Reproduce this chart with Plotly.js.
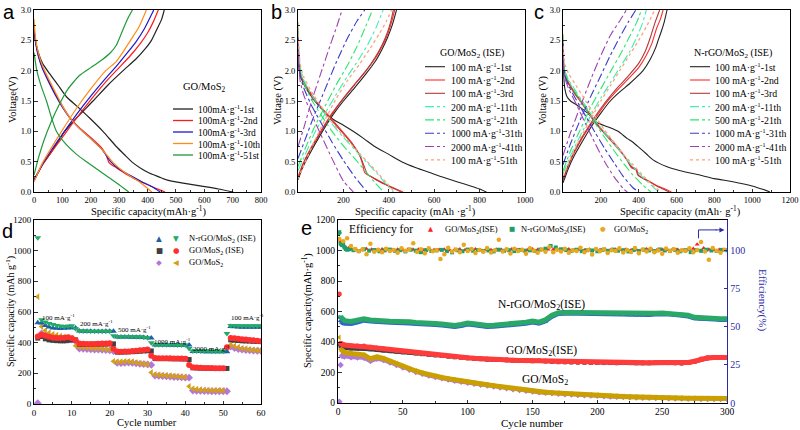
<!DOCTYPE html>
<html><head><meta charset="utf-8">
<script src="https://cdn.plot.ly/plotly-3.0.1.min.js"></script>
<style>html,body{margin:0;padding:0;background:#fff}#g{width:800px;height:430px}</style>
</head><body><div id="g"></div>
<script>
// ---------- Panel a: GO/MoS2 (capacity mAh/g, voltage V) ----------
const A1_dQ=[0,5,15,30,55,85,114,150,196,243,290,320,349,380,408,440,467,520,585,650,702];
const A1_dV=[2.65,2.5,2.3,2.12,1.95,1.76,1.57,1.42,1.22,1.0,0.75,0.61,0.48,0.38,0.31,0.25,0.2,0.15,0.1,0.05,0.0];
const A1_cQ=[0,30,60,108,150,208,260,314,361,390,414,435,450,459];
const A1_cV=[0.18,0.45,0.65,1.0,1.22,1.5,1.76,2.0,2.2,2.35,2.5,2.7,2.85,3.0];
const A2_dQ=[0,5,15,30,50,75,100,130,160,200,240,255,265,290,330,370,410,440,462];
const A2_dV=[2.7,2.5,2.25,2.05,1.85,1.62,1.42,1.2,1.06,0.9,0.72,0.6,0.48,0.4,0.28,0.18,0.1,0.04,0.0];
const A2_cQ=[0,30,60,100,150,200,250,300,340,375,400,420,438];
const A2_cV=[0.2,0.45,0.65,0.9,1.22,1.52,1.8,2.05,2.25,2.45,2.62,2.8,3.0];
const A3_dQ=[0,5,15,30,50,75,100,130,160,200,240,270,300,340,380,415,445];
const A3_dV=[2.68,2.48,2.25,2.03,1.83,1.6,1.4,1.2,1.05,0.88,0.7,0.5,0.38,0.27,0.17,0.09,0.0];
const A3_cQ=[0,30,60,100,150,200,250,290,330,360,390,422];
const A3_cV=[0.2,0.46,0.68,0.95,1.28,1.58,1.86,2.07,2.3,2.48,2.7,3.0];
const A10_dQ=[0,5,15,30,50,75,100,130,160,200,240,280,320,360,390,415];
const A10_dV=[2.85,2.55,2.3,2.08,1.88,1.65,1.42,1.2,1.05,0.88,0.7,0.48,0.32,0.2,0.1,0.0];
const A10_cQ=[0,30,60,100,150,200,253,290,310,340,370,396];
const A10_cV=[0.17,0.48,0.72,1.02,1.38,1.7,2.0,2.15,2.28,2.5,2.72,3.0];
const A51_dQ=[0,10,25,44,60,79,110,150,185,230,270,300,334];
const A51_dV=[2.3,2.0,1.75,1.5,1.25,1.0,0.8,0.62,0.5,0.35,0.22,0.12,0.0];
const A51_cQ=[0,15,35,60,90,120,160,200,240,270,290,305,320,335,347];
const A51_cV=[0.28,0.55,0.85,1.15,1.45,1.7,1.92,2.05,2.18,2.3,2.42,2.58,2.75,2.9,3.0];
const aNames=['100mA·g<sup>-1</sup>-1st','100mA·g<sup>-1</sup>-2nd','100mA·g<sup>-1</sup>-3rd','100mA·g<sup>-1</sup>-10th','100mA·g<sup>-1</sup>-51st'];

// ---------- Panel b: GO/MoS2 (ISE) ----------
const B1_dQ=[0,3,8,20,40,70,110,154,200,243,290,338,400,456,520,580,633,700,760,800,830];
const B1_dV=[2.3,2.1,1.95,1.82,1.68,1.52,1.35,1.2,1.1,1.0,0.88,0.75,0.62,0.5,0.4,0.32,0.25,0.17,0.1,0.05,0.0];
const B1_cQ=[0,20,50,100,150,200,250,300,340,370,395,415,434];
const B1_cV=[0.2,0.4,0.62,0.95,1.25,1.5,1.72,1.95,2.15,2.35,2.55,2.75,3.0];
const B2_dQ=[0,5,15,40,80,120,160,200,240,272,285,294,340,380,420,463];
const B2_dV=[2.3,2.05,1.9,1.72,1.5,1.32,1.15,0.98,0.8,0.6,0.45,0.32,0.22,0.14,0.07,0.0];
const B2_cQ=[0,20,50,100,150,200,250,300,340,370,395,412,426];
const B2_cV=[0.25,0.45,0.68,1.0,1.3,1.55,1.78,2.0,2.2,2.4,2.6,2.8,3.0];
const B3_dQ=[0,5,15,40,80,120,160,200,240,275,292,305,340,380,420,455];
const B3_dV=[2.28,2.03,1.88,1.7,1.48,1.3,1.13,0.96,0.78,0.58,0.42,0.3,0.21,0.13,0.06,0.0];
const B3_cQ=[0,20,50,100,150,200,250,300,340,370,393,408,420];
const B3_cV=[0.22,0.43,0.66,0.98,1.28,1.54,1.77,2.0,2.22,2.42,2.62,2.8,3.0];
const B11_dQ=[0,4,10,25,60,100,150,200,250,300,350,390,420];
const B11_dV=[2.75,2.3,2.05,1.85,1.6,1.38,1.12,0.9,0.7,0.5,0.3,0.12,0.0];
const B11_cQ=[0,30,70,120,170,220,270,310,345,375];
const B11_cV=[0.35,0.6,0.95,1.3,1.62,1.92,2.2,2.45,2.72,3.0];
const B21_dQ=[0,4,10,25,60,100,150,200,250,300,340,378];
const B21_dV=[2.7,2.25,2.0,1.8,1.52,1.28,1.0,0.76,0.55,0.33,0.15,0.0];
const B21_cQ=[0,30,70,120,170,220,260,295,328];
const B21_cV=[0.42,0.7,1.05,1.42,1.78,2.1,2.4,2.7,3.0];
const B31_dQ=[0,4,10,25,60,100,150,200,250,304];
const B31_dV=[2.6,2.15,1.92,1.72,1.42,1.15,0.82,0.52,0.25,0.0];
const B31_cQ=[0,30,70,120,170,220,260,294];
const B31_cV=[0.55,0.85,1.25,1.7,2.15,2.55,2.82,3.0];
const B41_dQ=[0,4,10,25,60,100,150,200,244];
const B41_dV=[2.55,2.05,1.82,1.6,1.28,0.95,0.55,0.18,0.0];
const B41_cQ=[0,25,60,100,140,170,194];
const B41_cV=[0.75,1.05,1.5,1.95,2.4,2.72,3.0];
const B51_dQ=[0,4,10,25,60,100,150,200,250,300,350,390,425];
const B51_dV=[2.8,2.35,2.1,1.9,1.65,1.42,1.15,0.93,0.72,0.52,0.32,0.15,0.0];
const B51_cQ=[0,30,70,120,170,220,270,320,360,390,412];
const B51_cV=[0.22,0.48,0.82,1.2,1.55,1.85,2.1,2.38,2.62,2.82,3.0];

// ---------- Panel c: N-rGO/MoS2 (ISE) ----------
const C1_dQ=[0,2,5,10,20,40,80,130,176,240,291,340,370,400,440,476,547,620,723,800,898,1000,1060,1094];
const C1_dV=[2.5,2.1,1.85,1.7,1.58,1.5,1.42,1.3,1.15,1.07,1.0,0.88,0.82,0.74,0.63,0.53,0.42,0.35,0.28,0.22,0.17,0.1,0.04,0.0];
const C1_cQ=[0,30,60,100,150,200,250,300,350,385,423,460,490,503,520,535,550];
const C1_cV=[0.15,0.4,0.6,0.82,1.08,1.3,1.5,1.65,1.78,1.88,2.0,2.18,2.38,2.5,2.65,2.8,3.0];
const C2_dQ=[0,3,10,30,60,100,150,200,250,300,340,362,390,400,420,460,500,540,573];
const C2_dV=[2.5,2.15,1.95,1.8,1.65,1.48,1.25,1.05,0.88,0.7,0.52,0.4,0.36,0.27,0.23,0.17,0.1,0.05,0.0];
const C2_cQ=[0,30,60,100,150,200,250,300,350,400,440,470,495,515,529];
const C2_cV=[0.2,0.45,0.65,0.88,1.12,1.35,1.55,1.72,1.88,2.05,2.25,2.45,2.7,2.85,3.0];
const C3_dQ=[0,3,10,30,60,100,150,200,250,300,340,360,385,395,420,460,500,535,562];
const C3_dV=[2.45,2.1,1.92,1.78,1.63,1.46,1.23,1.03,0.86,0.68,0.52,0.42,0.38,0.28,0.23,0.16,0.09,0.04,0.0];
const C3_cQ=[0,30,60,100,150,200,250,300,350,400,435,462,485,511];
const C3_cV=[0.2,0.46,0.67,0.9,1.15,1.38,1.58,1.76,1.93,2.12,2.32,2.55,2.78,3.0];
const C11_dQ=[0,3,10,30,70,120,170,220,270,320,370,420,470,505];
const C11_dV=[2.6,2.2,2.0,1.85,1.65,1.42,1.18,0.98,0.8,0.6,0.42,0.25,0.1,0.0];
const C11_cQ=[0,40,90,150,200,250,300,350,390,420,441];
const C11_cV=[0.3,0.6,0.92,1.28,1.55,1.8,2.05,2.3,2.55,2.78,3.0];
const C21_dQ=[0,3,10,30,70,120,170,220,270,320,370,420,465];
const C21_dV=[2.55,2.15,1.97,1.82,1.62,1.38,1.13,0.9,0.68,0.47,0.28,0.12,0.0];
const C21_cQ=[0,40,90,150,200,250,300,350,390,415];
const C21_cV=[0.35,0.68,1.02,1.42,1.7,1.98,2.25,2.55,2.8,3.0];
const C31_dQ=[0,3,10,30,70,120,170,220,270,320,370,400];
const C31_dV=[2.5,2.1,1.92,1.75,1.52,1.25,0.98,0.72,0.48,0.25,0.07,0.0];
const C31_cQ=[0,40,90,150,200,250,300,345,385];
const C31_cV=[0.45,0.8,1.18,1.6,1.92,2.25,2.55,2.8,3.0];
const C41_dQ=[0,3,10,30,70,120,170,220,270,320,340];
const C41_dV=[2.45,2.05,1.88,1.7,1.45,1.12,0.8,0.5,0.25,0.05,0.0];
const C41_cQ=[0,40,90,150,200,250,300,335];
const C41_cV=[0.6,0.98,1.4,1.88,2.25,2.58,2.82,3.0];
const C51_dQ=[0,3,10,30,70,120,170,220,270,320,370,420,470,520];
const C51_dV=[2.6,2.3,2.1,1.95,1.75,1.5,1.25,1.02,0.82,0.62,0.45,0.28,0.12,0.0];
const C51_cQ=[0,40,90,150,200,250,300,350,400,440,485];
const C51_cV=[0.25,0.55,0.88,1.22,1.5,1.75,2.0,2.25,2.5,2.72,3.0];
const rateNames=['100 mA·g<sup>-1</sup>-1st','100 mA·g<sup>-1</sup>-2nd','100 mA·g<sup>-1</sup>-3rd','200 mA·g<sup>-1</sup>-11th','500 mA·g<sup>-1</sup>-21th','1000 mA·g<sup>-1</sup>-31th','2000 mA·g<sup>-1</sup>-41th','100 mA·g<sup>-1</sup>-51th'];

// ---------- Panel d: rate capability ----------
const cycD=[1,2,3,4,5,6,7,8,9,10,11,12,13,14,15,16,17,18,19,20,21,22,23,24,25,26,27,28,29,30,31,32,33,34,35,36,37,38,39,40,41,42,43,44,45,46,47,48,49,50,51,52,53,54,55,56,57,58,59,60];
const D_N_ch=[530,528,512,502,496,494,493,494,496,498,495,476,475,474,474,473,473,473,474,474,475,437,437,437,437,436,436,435,433,432,430,384,384,384,384,383,383,383,383,383,385,342,342,342,341,341,341,341,341,341,341,505,503,502,501,500,500,500,500,500];
const D_N_dis=[1085,550,535,525,518,512,508,506,508,510,490,478,476,476,475,475,474,474,474,475,445,440,440,440,440,440,438,438,436,432,400,386,386,386,386,386,386,385,385,385,362,345,345,345,345,345,344,344,344,344,460,512,512,510,510,510,510,510,510,510];
const D_G_ch=[430,440,425,418,415,413,412,412,415,418,418,390,389,389,389,390,390,391,391,392,392,338,338,339,340,341,342,344,346,347,346,296,296,296,296,295,295,295,294,294,290,236,235,234,233,233,232,232,232,232,232,418,416,414,412,411,410,409,408,407];
const D_G_dis=[440,452,445,438,432,430,430,432,435,428,415,395,393,392,392,392,393,394,395,396,360,342,341,342,343,345,347,350,352,355,315,300,299,298,298,298,297,297,296,295,255,240,238,236,235,234,234,233,233,233,370,430,428,425,422,420,418,415,413,410];
const D_M_ch=[5,460,450,440,432,425,420,418,418,420,410,362,360,358,356,355,354,353,352,350,345,268,266,268,270,268,265,262,260,258,255,185,183,182,180,178,176,175,173,172,172,88,86,85,84,84,83,83,83,83,83,375,365,358,354,352,350,348,347,346];
const D_M_dis=[700,505,480,465,455,448,442,437,433,430,380,372,370,368,366,364,362,360,358,356,278,275,276,277,278,275,270,266,262,258,205,192,190,188,186,184,182,180,178,176,115,100,96,93,91,90,89,88,88,88,360,385,378,370,364,360,356,352,350,348];
const rateLabels=['100 mA·g<sup>-1</sup>','200 mA·g<sup>-1</sup>','500 mA·g<sup>-1</sup>','1000 mA·g<sup>-1</sup>','2000 mA·g<sup>-1</sup>','100 mA·g<sup>-1</sup>'];
const rateLabelCycle=[6.5,16.5,26.5,36.5,47,56.5];
const rateLabelCap=[562,527,483,405,362,562];

// ---------- Panel e: long cycling ----------
const cycE=[1,2,3,4,5,10,15,20,25,30,35,40,45,50,55,60,65,70,75,80,85,90,95,100,105,110,115,120,125,130,135,140,145,150,155,160,165,170,175,180,185,190,195,200,205,210,215,220,225,230,235,240,245,250,255,260,265,270,275,280,285,290,295,300];
const E_N_dis=[1110,565,552,545,540,535,540,552,545,540,538,536,535,536,532,528,528,524,522,518,513,508,515,525,520,512,508,510,513,518,522,526,530,538,530,545,575,592,596,595,594,593,592,590,589,588,587,586,585,584,583,585,588,590,588,585,583,575,562,558,556,555,553,552];
const E_N_ch=[560,540,528,522,520,518,528,540,535,530,528,526,525,526,522,518,518,514,512,508,503,498,505,515,510,502,498,500,503,508,512,516,520,528,520,535,565,584,588,587,586,585,584,582,581,580,579,578,577,576,575,577,580,582,580,577,575,567,554,550,548,547,545,544];
const E_G_dis=[715,392,386,383,380,376,374,374,366,360,355,349,344,339,334,330,325,320,316,312,307,303,299,296,293,290,288,286,285,283,281,279,278,277,279,276,273,271,270,269,268,267,266,266,265,265,264,265,265,264,264,264,265,266,265,264,262,266,274,288,296,298,298,299];
const E_G_ch=[385,372,366,362,360,358,357,358,352,348,344,340,336,332,328,325,320,316,312,308,304,300,296,293,290,287,285,283,282,280,278,276,275,274,276,273,270,268,267,266,265,264,263,263,262,262,261,262,262,261,261,261,262,263,262,261,259,263,271,285,293,295,295,296];
const E_M_dis=[430,352,342,336,332,325,320,315,290,302,292,275,258,240,224,210,198,186,176,168,160,152,145,139,132,126,120,114,108,101,95,89,84,79,75,71,68,65,62,60,57,55,53,51,49,47,45,43,41,39,38,37,36,35,34,33,32,31,31,30,30,29,29,29];
const E_M_ch=[8,250,310,308,305,300,298,296,275,290,282,266,250,233,218,204,192,180,170,162,154,146,139,133,126,120,114,108,102,96,90,85,80,75,71,67,64,61,58,56,53,51,49,47,45,43,41,40,38,36,35,34,33,32,31,30,29,28,28,27,27,26,26,26];
// coulombic efficiency (%)
const cycEffR=[2,3,4,5,6,8,10,14,18,22,26,30,34,38,42,46,50,54,58,62,66,70,74,78,82,86,90,94,98,102,106,110,114,118,122,126,130,134,138,142,146,150,154,158,162,166,170,174,178,182,186,190,194,198,202,206,210,214,218,222,226,230,234,238,242,246,250,254,258,262,266,270,274,277,282,286,290,294,298];
const effR=[106,104,103,102.5,102,101.5,101,100.8,100.3,101.0,100.6,100.2,100.9,100.5,100.4,100.7,100.3,100.8,100.5,100.6,100.2,100.9,100.4,100.5,100.7,100.3,100.6,100.8,100.4,100.5,100.9,100.3,100.6,100.4,100.7,100.5,100.2,100.8,100.4,100.6,100.3,100.9,100.5,100.4,100.7,100.6,100.3,100.5,100.8,100.4,100.6,100.2,100.7,100.5,100.4,100.8,100.3,100.6,100.5,100.7,100.2,100.6,100.4,100.9,100.5,100.3,100.6,100.4,100.7,100.5,100.2,100.6,101.2,104.0,101.5,100.6,100.4,100.5,100.3];
const cycEffN=[1,2,3,4,5,6,7,9,12,16,20,24,28,32,36,40,44,48,52,56,60,64,68,72,76,80,84,88,92,96,100,104,108,112,116,120,124,128,132,136,140,144,148,152,156,160,164,168,172,176,180,184,188,192,196,200,204,208,212,216,220,224,228,232,236,240,244,248,252,256,260,264,268,272,276,280,284,288,292,296,300];
const effN=[112,104.5,103.5,104,102,101,100.5,100.8,100.2,99.6,100.8,99.9,100.3,99.5,100.1,100.6,99.8,100.2,99.4,100.5,99.9,98.9,100.3,99.7,100.1,100.4,99.6,98.8,100.2,99.5,100.6,99.9,100.3,99.7,100.0,99.4,100.5,99.8,100.2,99.6,100.4,99.9,100.1,99.7,100.6,101.2,103.0,102.0,100.8,100.3,99.8,100.5,99.6,100.2,100.0,99.5,100.4,99.8,100.6,99.9,100.2,99.4,100.3,99.7,100.5,100.1,99.6,100.7,100.0,99.8,100.4,99.5,100.2,98.9,100.3,99.8,100.5,100.0,99.7,100.4,100.1];
const cycEffM=[1,4,7,10,13,16,19,22,25,28,31,34,37,40,43,46,49,52,55,58,61,64,67,70,73,76,79,82,85,88,91,94,97,100,103,106,109,112,115,118,121,124,127,130,133,136,139,142,145,148,151,154,157,160,163,166,169,172,175,178,181,184,187,190,193,196,199,202,205,208,211,214,217,220,223,226,229,232,235,238,241,244,247,250,253,256,259,262,265,268,271,274,277,280,283,286,289,292,295,298];
const effM=[107.5,106,108,103,101,99.5,100.8,97.5,104.5,99.2,100.5,98.8,101.2,99.6,100.3,98.5,101.5,99.8,100.6,104.8,99.0,100.9,98.2,101.4,99.5,100.2,94.5,97.6,101.8,99.3,100.7,98.9,103.8,99.7,101.0,98.4,100.4,99.2,101.6,98.7,100.1,107.0,99.4,100.8,98.1,101.2,99.6,100.3,97.8,101.5,99.9,98.6,100.7,99.1,102.3,98.8,100.5,99.3,101.1,98.5,100.2,99.7,101.8,98.9,100.4,97.4,101.0,99.5,100.9,98.3,100.1,99.6,101.4,98.7,100.3,99.0,101.7,98.2,100.6,99.4,101.2,98.9,100.0,97.9,101.3,99.6,100.8,98.5,100.2,99.7,101.5,98.8,100.4,105.5,99.3,94.0,101.6,99.8,98.6,100.5];

// ================= rendering =================
const W=800,H=430;
const px=x=>x/W, py=y=>1-y/H;
const F='Liberation Serif', GLY='DejaVu Sans';
const DOM={a:{x:[34,261],y:[10,192]},b:{x:[298,525],y:[10,192]},c:{x:[563,790],y:[10,192]},d:{x:[34,261],y:[220,404]},e:{x:[338,727],y:[220,403]}};
const dx=p=>[px(DOM[p].x[0]),px(DOM[p].x[1])];
const dy=p=>[py(DOM[p].y[1]),py(DOM[p].y[0])];
const shapes=[],annotations=[],traces=[];

function axis(extra,fs){return Object.assign({showline:true,linecolor:'#000',linewidth:1,mirror:true,ticks:'inside',ticklen:3.5,tickwidth:0.8,tickcolor:'#000',showgrid:false,zeroline:false,fixedrange:true,tickfont:{family:F,size:fs||8.5,color:'#000'}},extra);}
function ann(x,y,text,size,o){annotations.push(Object.assign({xref:'paper',yref:'paper',x:px(x),y:py(y),text:text,showarrow:false,xanchor:'center',yanchor:'middle',borderpad:0,font:{family:F,size:size,color:'#000'}},o||{}));}

function curve(xa,ya,dQ,dV,cQ,cV,color,dash,width){
  traces.push({type:'scatter',mode:'lines',x:dQ.concat([null],cQ),y:dV.concat([null],cV),xaxis:xa,yaxis:ya,connectgaps:false,
    line:{color:color,dash:dash,width:width,shape:'spline',smoothing:0.5},showlegend:false,hoverinfo:'skip'});
}
function lineLegend(names,colors,dashes,widths,x0,x1,xt,y0,step,size){
  names.forEach((n,i)=>{const y=y0+i*step;
    shapes.push({type:'line',xref:'paper',yref:'paper',x0:px(x0),x1:px(x1),y0:py(y),y1:py(y),line:{color:colors[i],width:widths[i],dash:dashes[i]}});
    ann(xt,y,n,size,{xanchor:'left'});
  });
}

// panel a
const aCol=['#222222','#ff1a1a','#1a1acc','#ff8c1a','#1f9a3a'];
[[A1_dQ,A1_dV,A1_cQ,A1_cV],[A2_dQ,A2_dV,A2_cQ,A2_cV],[A3_dQ,A3_dV,A3_cQ,A3_cV],[A10_dQ,A10_dV,A10_cQ,A10_cV],[A51_dQ,A51_dV,A51_cQ,A51_cV]]
 .forEach((s,i)=>curve('x','y',s[0],s[1],s[2],s[3],aCol[i],'solid',1.2));
ann(205,87,'GO/MoS<sub>2</sub>',10.5);
lineLegend(aNames,aCol,['solid','solid','solid','solid','solid'],[1.3,1.3,1.3,1.3,1.3],173,193,197,109,11.5,9.5);

// panels b and c
const rCol=['#222222','#ff2a2a','#b03a3a','#3cf0b4','#2ee66a','#3a3acc','#a040b0','#ffa07a'];
const rDash=['solid','solid','solid','dashdot','dashdot','dashdot','dashdot','dot'];
const rW=[1.1,1.1,1.1,1.1,1.1,1.1,1.1,1.3];
[[B1_dQ,B1_dV,B1_cQ,B1_cV],[B2_dQ,B2_dV,B2_cQ,B2_cV],[B3_dQ,B3_dV,B3_cQ,B3_cV],[B11_dQ,B11_dV,B11_cQ,B11_cV],[B21_dQ,B21_dV,B21_cQ,B21_cV],[B31_dQ,B31_dV,B31_cQ,B31_cV],[B41_dQ,B41_dV,B41_cQ,B41_cV],[B51_dQ,B51_dV,B51_cQ,B51_cV]]
 .forEach((s,i)=>curve('x2','y2',s[0],s[1],s[2],s[3],rCol[i],rDash[i],rW[i]));
[[C1_dQ,C1_dV,C1_cQ,C1_cV],[C2_dQ,C2_dV,C2_cQ,C2_cV],[C3_dQ,C3_dV,C3_cQ,C3_cV],[C11_dQ,C11_dV,C11_cQ,C11_cV],[C21_dQ,C21_dV,C21_cQ,C21_cV],[C31_dQ,C31_dV,C31_cQ,C31_cV],[C41_dQ,C41_dV,C41_cQ,C41_cV],[C51_dQ,C51_dV,C51_cQ,C51_cV]]
 .forEach((s,i)=>curve('x3','y3',s[0],s[1],s[2],s[3],rCol[i],rDash[i],rW[i]));
ann(472,53,'GO/MoS<sub>2</sub> (ISE)',10);
lineLegend(rateNames,rCol,rDash,rW,425,445,450,66.7,13.3,9.8);
ann(733,53,'N-rGO/MoS<sub>2</sub> (ISE)',10);
lineLegend(rateNames,rCol,rDash,rW,690,710,714,66.7,13.3,9.8);

// panel d
function mk(xa,ya,x,y,sym,color,size){traces.push({type:'scatter',mode:'markers',x:x,y:y,xaxis:xa,yaxis:ya,marker:{symbol:sym,color:color,size:size,line:{width:0}},showlegend:false,hoverinfo:'skip'});}
const cNch='#1f5fa8',cNdis='#22aa66',cGch='#404040',cGdis='#ff3030',cMch='#b377d9',cMdis='#d4a017';
mk('x4','y4',cycD,D_M_ch,'diamond',cMch,6);
mk('x4','y4',cycD,D_M_dis,'triangle-left',cMdis,6);
mk('x4','y4',cycD,D_G_ch,'square',cGch,5);
mk('x4','y4',cycD,D_G_dis,'circle',cGdis,6);
mk('x4','y4',cycD,D_N_ch,'triangle-up',cNch,6);
mk('x4','y4',cycD,D_N_dis,'triangle-down',cNdis,6);
rateLabels.forEach((t,i)=>annotations.push({xref:'x4',yref:'y4',x:rateLabelCycle[i],y:rateLabelCap[i],text:t,showarrow:false,borderpad:0,font:{family:F,size:7,color:'#000'}}));
// legend d
const dRows=[[238,'▲',cNch,'▼',cNdis,'N-rGO/MoS<sub>2</sub> (ISE)'],[250,'■',cGch,'●',cGdis,'GO/MoS<sub>2</sub> (ISE)'],[262,'◆',cMch,'◀',cMdis,'GO/MoS<sub>2</sub>']];
dRows.forEach(r=>{ann(159,r[0],r[1],7.5,{font:{family:GLY,size:7.5,color:r[2]}});ann(176,r[0],r[3],7.5,{font:{family:GLY,size:7.5,color:r[4]}});ann(188,r[0],r[5],8.5,{xanchor:'left'});});

// panel e
function band(x,y,sym,color,size,lw,breakAt){
  const xx=[],yy=[];
  x.forEach((v,i)=>{ if(breakAt.indexOf(i)>=0){xx.push(null);yy.push(null);} xx.push(v); yy.push(y[i]); });
  traces.push({type:'scatter',mode:'lines+markers',x:xx,y:yy,xaxis:'x5',yaxis:'y5',connectgaps:false,line:{color:color,width:lw},marker:{symbol:sym,color:color,size:size,line:{width:0}},showlegend:false,hoverinfo:'skip'});
}
band(cycE,E_M_ch,'diamond',cMch,5,4,[1,2]);
band(cycE,E_G_ch,'square',cGch,4,4,[1]);
band(cycE,E_N_ch,'triangle-up','#3366cc',5,4,[1]);
band(cycE,E_M_dis,'triangle-left','#caa000',5,5,[1]);
band(cycE,E_G_dis,'circle','#ff3c3c',5,5,[1]);
band(cycE,E_N_dis,'triangle-down','#2aa868',5,5,[1]);
function eff(x,y,sym,color,size){traces.push({type:'scatter',mode:'markers',x:x,y:y,xaxis:'x5',yaxis:'y6',marker:{symbol:sym,color:color,size:size,line:{width:0}},showlegend:false,hoverinfo:'skip'});}
eff(cycEffR,effR,'triangle-up','#ff2020',4.5);
eff(cycEffN,effN,'square','#1e9e6a',4);
eff(cycEffM,effM,'circle','#e8a820',4.5);
annotations.push({xref:'x5',yref:'y5',x:157,y:640,text:'N-rGO/MoS<sub>2</sub>(ISE)',showarrow:false,font:{family:F,size:11.5,color:'#000'}});
annotations.push({xref:'x5',yref:'y5',x:157,y:338,text:'GO/MoS<sub>2</sub>(ISE)',showarrow:false,font:{family:F,size:11.5,color:'#000'}});
annotations.push({xref:'x5',yref:'y5',x:160,y:150,text:'GO/MoS<sub>2</sub>',showarrow:false,font:{family:F,size:11.5,color:'#000'}});
// legend e
ann(348,229,'Efficiency for',11.5,{xanchor:'left'});
ann(431,229,'▲',6.5,{font:{family:GLY,size:6.5,color:'#ff2020'}});
ann(444,229,'GO/MoS<sub>2</sub>(ISE)',8.5,{xanchor:'left'});
ann(512,229,'■',6.5,{font:{family:GLY,size:6.5,color:'#1e9e6a'}});
ann(520,229,'N-rGO/MoS<sub>2</sub>(ISE)',8.5,{xanchor:'left'});
ann(603,229,'●',6.5,{font:{family:GLY,size:6.5,color:'#e8a820'}});
ann(613,229,'GO/MoS<sub>2</sub>',8.5,{xanchor:'left'});
// arrow to efficiency axis
const blue='#2b2ba8';
shapes.push({type:'path',xref:'x5',yref:'y6',path:'M278,108 L278,113.5 L292,113.5',line:{color:blue,width:1}});
annotations.push({xref:'x5',yref:'y6',axref:'x5',ayref:'y6',x:298,y:113.5,ax:290,ay:113.5,text:'',showarrow:true,arrowhead:2,arrowsize:1,arrowwidth:1,arrowcolor:blue});
ann(763,300,'Efficiency(%)',11,{textangle:90,font:{family:F,size:11,color:blue}});

// axis titles
ann(148,211,'Specific capacity(mAh·g<sup>-1</sup>)',10.5);
ann(13,100,'Voltage(V)',10.5,{textangle:-90});
ann(415,211,'Specific capacity (mAh ·g<sup>-1</sup>)',10.5);
ann(278,100,'Voltage (V)',10.5,{textangle:-90});
ann(680,211,'Specific capacity (mAh· g<sup>-1</sup>)',10.5);
ann(543,100,'Voltage (V)',10.5,{textangle:-90});
ann(147,422,'Cycle number',10.5);
ann(10,312,'Specific capacity (mAh g<sup>-1</sup>)',10,{textangle:-90});
ann(532,423,'Cycle number',11);
ann(307,311,'Specific capacity(mAh·g<sup>-1</sup>)',10.5,{textangle:-90});
// panel letters
const LF='Liberation Sans';
const letter=(x,y,t)=>ann(x,y,t,20,{yanchor:'top',font:{family:LF,size:20,color:'#000'}});
letter(9,0,'a'); letter(276,0,'b'); letter(539,0,'c'); letter(7,219,'d'); letter(306,216,'e');

const layout={width:W,height:H,margin:{l:0,r:0,t:0,b:0},paper_bgcolor:'#fff',plot_bgcolor:'#fff',showlegend:false,
 font:{family:F,color:'#000'},
 xaxis:axis({domain:dx('a'),anchor:'y',range:[0,800],dtick:100,minor:{ticks:'inside',ticklen:2,dtick:50,tickcolor:'#000'}}),
 yaxis:axis({domain:dy('a'),anchor:'x',range:[0,3],dtick:0.5,tickformat:'.1f',minor:{ticks:'inside',ticklen:2,dtick:0.25,tickcolor:'#000'}}),
 xaxis2:axis({domain:dx('b'),anchor:'y2',range:[0,1000],tickmode:'array',tickvals:[200,400,600,800,1000],minor:{ticks:'inside',ticklen:2,tickmode:'array',tickvals:[100,300,500,700,900],tickcolor:'#000'}}),
 yaxis2:axis({domain:dy('b'),anchor:'x2',range:[0,3],dtick:0.5,tickformat:'.1f',minor:{ticks:'inside',ticklen:2,dtick:0.25,tickcolor:'#000'}}),
 xaxis3:axis({domain:dx('c'),anchor:'y3',range:[0,1200],tickmode:'array',tickvals:[200,400,600,800,1000,1200],minor:{ticks:'inside',ticklen:2,tickmode:'array',tickvals:[100,300,500,700,900,1100],tickcolor:'#000'}}),
 yaxis3:axis({domain:dy('c'),anchor:'x3',range:[0,3],dtick:0.5,tickformat:'.1f',minor:{ticks:'inside',ticklen:2,dtick:0.25,tickcolor:'#000'}}),
 xaxis4:axis({domain:dx('d'),anchor:'y4',range:[0,60],dtick:10,minor:{ticks:'inside',ticklen:2,dtick:5,tickcolor:'#000'}},9),
 yaxis4:axis({domain:dy('d'),anchor:'x4',range:[0,1200],dtick:200,minor:{ticks:'inside',ticklen:2,dtick:100,tickcolor:'#000'}},9),
 xaxis5:axis({domain:dx('e'),anchor:'y5',range:[0,300],dtick:50,minor:{ticks:'inside',ticklen:2,dtick:25,tickcolor:'#000'}},9.5),
 yaxis5:axis({domain:dy('e'),anchor:'x5',range:[0,1200],dtick:200,mirror:false,minor:{ticks:'inside',ticklen:2,dtick:100,tickcolor:'#000'}},9.5),
 yaxis6:{overlaying:'y5',side:'right',anchor:'x5',range:[0,120],tickmode:'array',tickvals:[0,25,50,75,100],showline:true,linecolor:blue,linewidth:1.2,ticks:'inside',ticklen:3.5,tickcolor:blue,showgrid:false,zeroline:false,fixedrange:true,tickfont:{family:F,size:10,color:blue}},
 shapes:shapes,annotations:annotations};
Plotly.newPlot('g',traces,layout,{staticPlot:true,displayModeBar:false});
</script></body></html>
